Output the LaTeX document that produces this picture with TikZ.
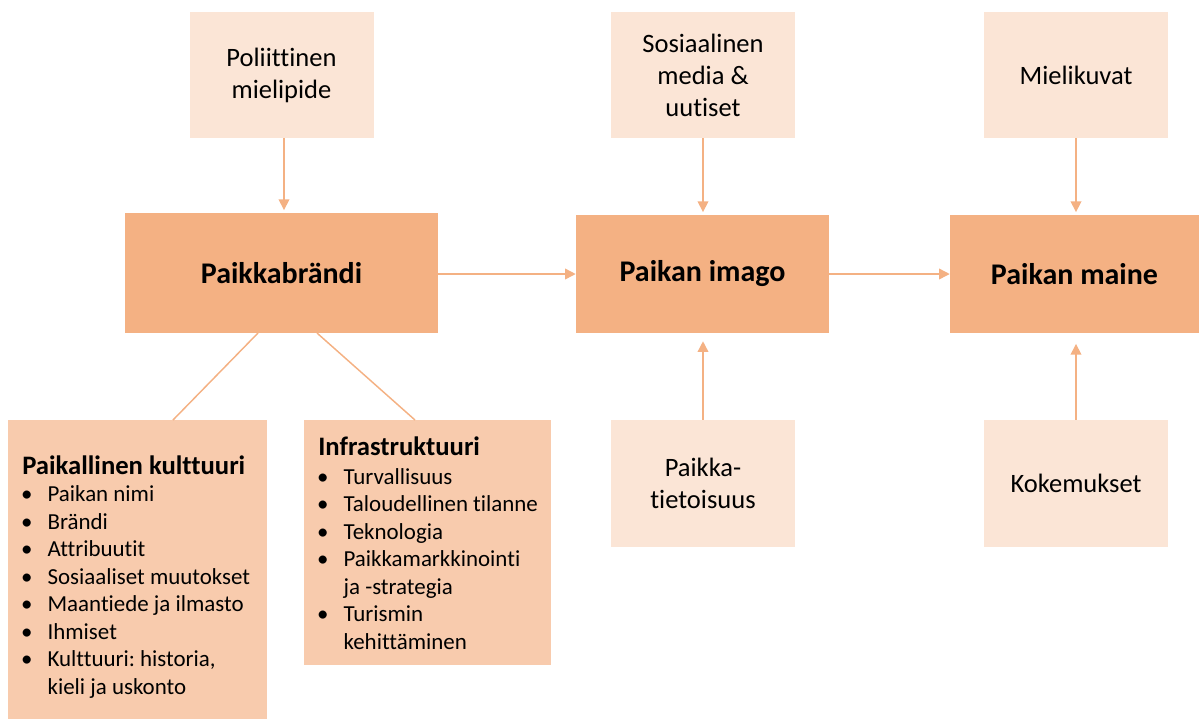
\documentclass[tikz,border=0pt]{standalone}
\usepackage{fontspec}
\setmainfont[Ligatures=NoCommon]{Carlito}
\usetikzlibrary{arrows.meta}
\definecolor{mainfill}{HTML}{F4B183}
\definecolor{softfill}{HTML}{FBE5D6}
\definecolor{listfill}{HTML}{F8CBAD}
\definecolor{linkcol}{HTML}{F4B183}
\newcommand{\bul}{\makebox[20.5pt][l]{\hspace{0.6pt}\textbullet}}
\newcommand{\listhead}[1]{\multicolumn{2}{@{\hspace{1.5pt}}l@{}}{\usefont{TU}{\rmdefault}{b}{n}\fontsize{20}{24}\selectfont #1}}
\frenchspacing
\begin{document}
\begin{tikzpicture}[x=0.75pt,y=-0.75pt,
  mainbox/.style={rectangle,fill=mainfill,inner sep=0pt,
    font=\fontsize{22.5}{27}\selectfont\bfseries},
  sidebox/.style={rectangle,fill=softfill,inner sep=0pt,align=center,
    minimum width=184*0.75pt,minimum height=126*0.75pt,
    font=\fontsize{19.9}{24}\selectfont},
  listbox/.style={rectangle,fill=listfill,inner sep=0pt,anchor=north west},
  listtext/.style={anchor=west,inner sep=0pt,align=left,
    font=\fontsize{17.2}{20.6}\selectfont},
  link/.style={draw=linkcol,line width=1.1pt},
  flow/.style={link,-{Triangle[length=8pt,width=8pt]}}
]
\useasboundingbox (0,0) rectangle (1199,719);

% main chain
\node[mainbox,minimum width=313*0.75pt,minimum height=120*0.75pt] (brand) at (281.5,273) {Paikkabrändi};
\node[mainbox,minimum width=253*0.75pt,minimum height=118*0.75pt] (image) at (702.5,274) {Paikan imago};
\node[mainbox,minimum width=249*0.75pt,minimum height=118*0.75pt] (fame) at (1074.5,274) {Paikan maine};

% influencing factors
\node[sidebox] (polit) at (281.5,75) {Poliittinen\\mielipide};
\node[sidebox] (media) at (703,75) {Sosiaalinen\\media \&\\uutiset};
\node[sidebox] (views) at (1076,75) {Mielikuvat};
\node[sidebox,minimum height=127*0.75pt] (aware) at (703,483.5) {Paikka-\\tietoisuus};
\node[sidebox,minimum height=127*0.75pt] (exper) at (1076,483.5) {Kokemukset};

% brand components: boxes
\node[listbox,minimum width=259*0.75pt,minimum height=299*0.75pt] (culture) at (8,420) {};
\node[listbox,minimum width=247*0.75pt,minimum height=245*0.75pt] (infra) at (304,420) {};

% brand components: bullet lists
\node[listtext] (culturetext) at ([xshift=12*0.75pt,yshift=-9*0.75pt]culture.west)
{\begin{tabular}{@{}l@{}l@{}}
\listhead{Paikallinen kulttuuri}\\
\bul & Paikan nimi\\
\bul & Brändi\\
\bul & Attribuutit\\
\bul & Sosiaaliset muutokset\\
\bul & Maantiede ja ilmasto\\
\bul & Ihmiset\\
\bul & Kulttuuri: historia,\\
 & kieli ja uskonto
\end{tabular}};
\node[listtext] (infratext) at ([xshift=12*0.75pt,yshift=-4*0.75pt]infra.west)
{\begin{tabular}{@{}l@{}l@{}}
\listhead{Infrastruktuuri}\\[1pt]
\bul & Turvallisuus\\
\bul & Taloudellinen tilanne\\
\bul & Teknologia\\
\bul & Paikkamarkkinointi\\
 & ja -strategia\\
\bul & Turismin\\
 & kehittäminen
\end{tabular}};

% connectors
\coordinate (politout) at ([xshift=2.5*0.75pt]polit.south);
\draw[flow,shorten >=2pt] (politout) -- (politout |- brand.north);
\draw[flow,shorten >=2pt] (media) -- (media |- image.north);
\draw[flow,shorten >=2pt] (views) -- (views |- fame.north);
\draw[flow,shorten >=6pt] (aware) -- (aware |- image.south);
\draw[flow,shorten >=8pt] (exper) -- (exper |- fame.south);
\draw[flow] (brand.east |- image.west) -- (image.west);
\draw[flow] (image.east) -- (fame.west);
\coordinate (bl) at (258,333);
\coordinate (br) at (317,333);
\draw[link] (bl) -- (culture.north west -| 173,0);
\draw[link] (br) -- (infra.north west -| 415,0);
\end{tikzpicture}
\end{document}
